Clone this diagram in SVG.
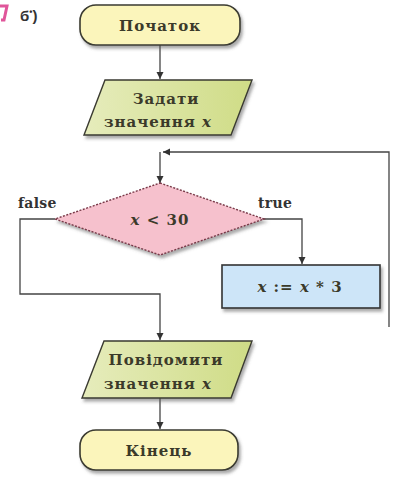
<svg xmlns="http://www.w3.org/2000/svg" width="397" height="479" viewBox="0 0 397 479">
<style>
text{font-family:'DejaVu Serif','Liberation Serif',serif}
.t{font-weight:bold;font-size:15px;fill:#3b3a2a;text-anchor:middle;letter-spacing:1px}
.lbl{font-weight:bold;font-size:14px;fill:#333;letter-spacing:0.3px}
.c{fill:none;stroke:#444;stroke-width:1.3}
.term{fill:#fbf5bb;stroke:#3a3a30;stroke-width:1.6}
.io{fill:url(#gio);stroke:#3a3a30;stroke-width:1.4}
</style>
<defs>
<linearGradient id="gio" x1="0" y1="0" x2="1" y2="0">
<stop offset="0" stop-color="#e6ecbc"/><stop offset="1" stop-color="#cfdc86"/>
</linearGradient>
<filter id="sh" x="-10%" y="-10%" width="130%" height="140%">
<feDropShadow dx="2" dy="3" stdDeviation="1.5" flood-color="#555" flood-opacity="0.5"/>
</filter>
<marker id="ah" markerWidth="8" markerHeight="8" refX="7" refY="4" orient="auto" markerUnits="userSpaceOnUse">
<path d="M0,0.5 L7,4 L0,7.5 Z" fill="#333"/>
</marker>
</defs>
<path d="M0,6 H7 L4,20 H1" fill="none" stroke="#e0559a" stroke-width="3"/>
<text x="20" y="21" style="font-family:'Liberation Sans',sans-serif;font-weight:bold;font-size:15px;fill:#333">б<tspan font-size="9" dy="-6">•</tspan><tspan dy="6">)</tspan></text>
<g id="connectors">
<path class="c" d="M160,45 V79" marker-end="url(#ah)"/>
<path class="c" d="M389,327 V152 H163" marker-end="url(#ah)"/>
<path class="c" d="M160,152 V183" marker-end="url(#ah)"/>
<path class="c" d="M55,219 H20 V294 H160 V340" marker-end="url(#ah)"/>
<path class="c" d="M262,219 H302 V264" marker-end="url(#ah)"/>
<path class="c" d="M160,398 V429" marker-end="url(#ah)"/>
</g>
<g id="start">
<rect class="term" x="80" y="5" width="160" height="40" rx="16" filter="url(#sh)"/>
<text class="t" x="160" y="31">Початок</text>
</g>
<g id="input">
<polygon class="io" points="105,80 252,80 231,135 84,135" filter="url(#sh)"/>
<text class="t" x="166" y="104">Задати</text>
<text class="t" x="158" y="127">значення <tspan font-style="italic">x</tspan></text>
</g>
<g id="cond">
<polygon points="160,183 264,219 160,255 55,219" fill="#f6c1cd" stroke="#7a3a4a" stroke-width="1.4" stroke-dasharray="2,1.5" filter="url(#sh)"/>
<text class="t" x="160" y="225"><tspan font-style="italic">x</tspan> &lt; 30</text>
</g>
<text class="lbl" x="18" y="208">false</text>
<text class="lbl" x="258" y="208">true</text>
<g id="assign">
<rect x="222" y="265" width="158" height="43" fill="#cde5f8" stroke="#333" stroke-width="1.6" filter="url(#sh)"/>
<text class="t" x="300" y="292"><tspan font-style="italic">x</tspan> := <tspan font-style="italic">x</tspan> * 3</text>
</g>
<g id="output">
<polygon class="io" points="104,341 252,341 231,398 82,398" filter="url(#sh)"/>
<text class="t" x="166" y="365">Повідомити</text>
<text class="t" x="158" y="389">значення <tspan font-style="italic">x</tspan></text>
</g>
<g id="end">
<rect class="term" x="80" y="430" width="158" height="40" rx="16" filter="url(#sh)"/>
<text class="t" x="159" y="456">Кінець</text>
</g>
</svg>
